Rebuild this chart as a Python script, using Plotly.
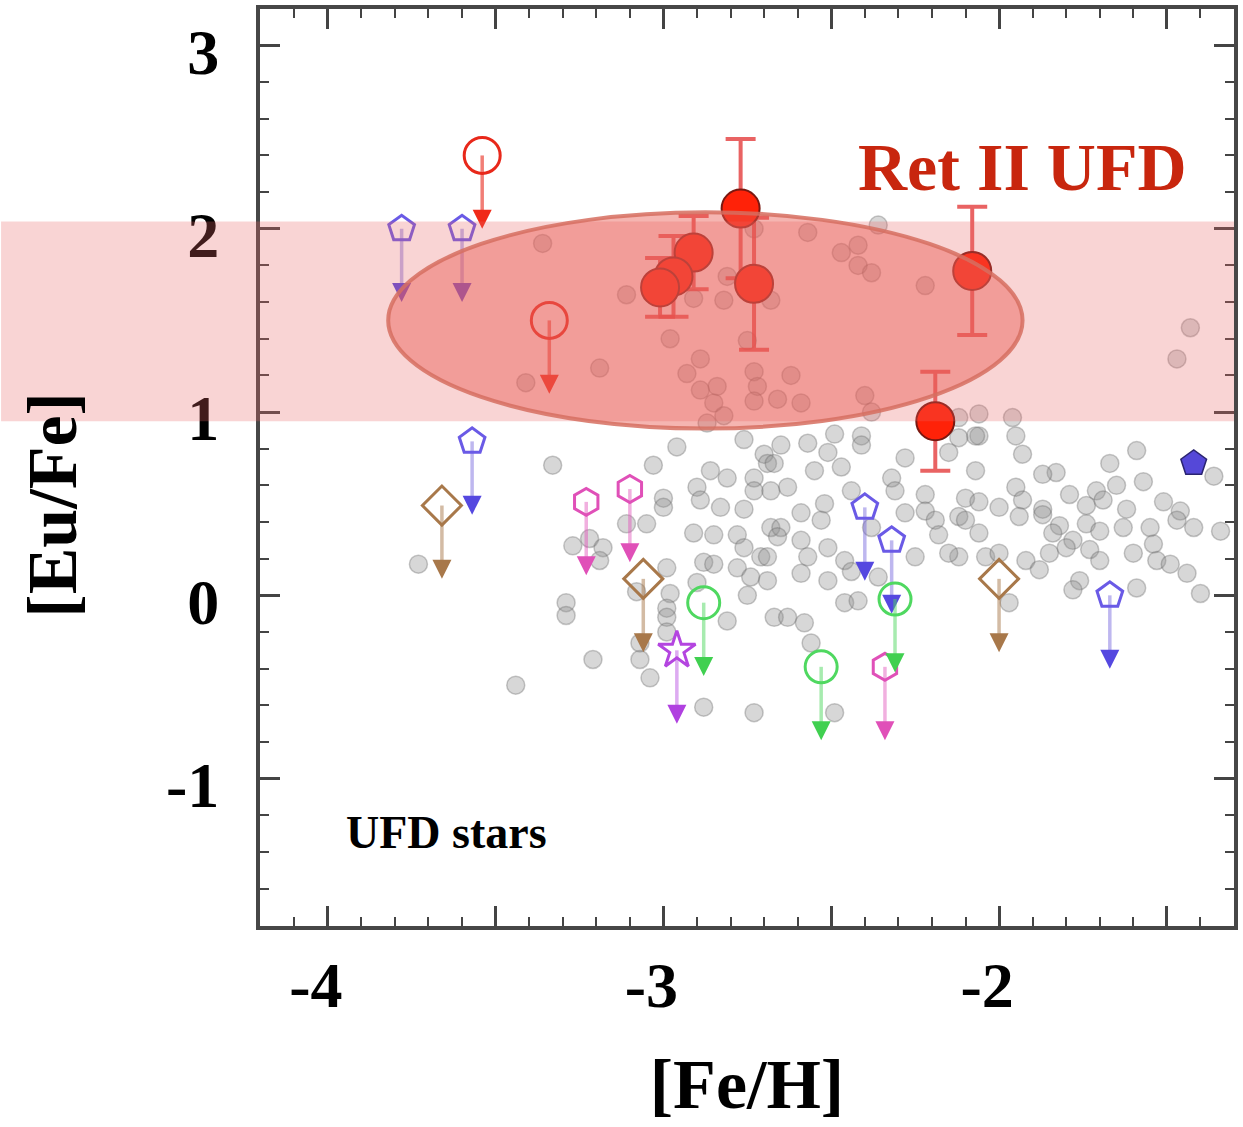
import plotly.graph_objects as go

# ---------------- data ----------------
# background comparison stars (grey)
grey_feh = [-3.33, -2.96, -3.03, -2.76, -2.86, -2.81, -2.90, -2.73, -2.70, -2.69,
            -3.00, -3.00, -2.89, -2.83, -2.76, -2.73, -3.11, -3.05, -2.91, -2.85,
            -2.78, -2.68, -2.76, -2.71, -3.27, -3.22, -3.18, -3.19, -3.73, -2.99,
            -2.88, -2.85, -2.78, -2.74, -2.69, -2.90, -3.08, -2.98, -3.29, -3.29,
            -2.99, -2.99, -2.81, -2.75, -2.99, -3.07, -3.21, -3.07, -3.04, -3.44,
            -2.88, -2.73, -2.67, -2.49, -2.41, -2.57, -2.65, -2.51, -2.41, -2.28,
            -2.15, -2.06, -1.95, -1.93, -2.07, -1.59, -1.67, -1.83, -1.87, -1.57,
            -1.65, -1.71, -1.95, -1.36, -2.67, -2.55, -2.47, -2.32, -2.31, -2.44,
            -2.63, -2.68, -2.22, -2.10, -2.06, -2.00, -1.93, -1.87, -1.79, -1.74,
            -1.69, -1.62, -1.51, -1.46, -2.59, -2.52, -2.65, -2.53, -2.38, -2.28,
            -2.22, -2.19, -2.12, -2.10, -1.94, -1.87, -1.82, -1.74, -1.63, -1.55,
            -1.47, -1.42, -1.34, -2.18, -2.06, -1.84, -1.78, -1.70, -2.66, -2.59,
            -2.51, -2.57, -2.69, -2.46, -2.25, -2.44, -2.36, -2.51, -2.59, -2.12,
            -2.04, -2.00, -1.92, -1.88, -1.85, -1.80, -1.73, -1.70, -1.76, -1.78,
            -1.60, -1.54, -1.53, -1.49, -1.59, -1.44, -1.40, -2.46, -2.42, -2.63,
            -2.58, -2.56, -1.97, -2.49, -2.15, -3.36, -3.11, -2.91, -2.82, -2.68,
            -2.81, -2.57, -2.47, -2.42, -2.42, -2.38, -2.22, -2.98, -2.75, -3.19,
            -3.41, -2.89, -2.93, -2.84, -2.89, -2.73, -2.72, -2.62, -2.85, -2.73,
            -2.66, -2.59, -2.82, -2.87, -2.40, -2.38, -1.43, -1.47, -2.06, -2.12,
            -1.96, -2.07, -2.12, -2.73, -2.36]
grey_eu = [0.71, 0.81, 0.71, 0.85, 0.68, 0.64, 0.59, 0.64, 0.77, 0.72,
           0.53, 0.48, 0.52, 0.48, 0.47, 0.57, 0.39, 0.39, 0.34, 0.33,
           0.33, 0.37, 0.26, 0.21, 0.27, 0.31, 0.26, 0.19, 0.17, 0.15,
           0.18, 0.17, 0.15, 0.10, 0.08, 0.07, 0.02, 0.01, -0.04, -0.11,
           -0.07, -0.12, -0.14, 0.00, -0.20, -0.26, -0.35, -0.35, -0.45, -0.49,
           -0.61, -0.64, -0.12, 0.88, 0.87, 0.83, 0.82, 0.78, 0.82, 0.75,
           0.78, 0.87, 0.87, 0.77, 0.68, 0.79, 0.72, 0.67, 0.66, 0.62,
           0.60, 0.57, 0.59, 0.65, 0.72, 0.68, 0.70, 0.64, 0.57, 0.57,
           0.59, 0.57, 0.55, 0.53, 0.51, 0.48, 0.52, 0.47, 0.55, 0.49,
           0.52, 0.47, 0.51, 0.46, 0.45, 0.50, 0.37, 0.41, 0.37, 0.45,
           0.46, 0.41, 0.43, 0.41, 0.43, 0.44, 0.38, 0.39, 0.37, 0.37,
           0.41, 0.37, 0.35, 0.33, 0.34, 0.34, 0.30, 0.35, 0.32, 0.30,
           0.26, 0.21, 0.21, 0.19, 0.21, 0.13, 0.10, 0.08, 0.12, 0.21,
           0.21, 0.23, 0.19, 0.14, 0.23, 0.26, 0.25, 0.19, 0.08, 0.03,
           0.23, 0.28, 0.19, 0.17, 0.04, 0.12, 0.01, -0.04, -0.03, -0.12,
           -0.15, -0.26, -0.04, -0.64, 0.23, 1.92, 1.64, 1.62, 1.61, 1.61,
           1.74, 1.98, 1.87, 1.91, 1.80, 1.76, 1.69, 1.40, 1.39, 1.24,
           1.16, 1.29, 1.21, 1.14, 1.12, 1.22, 1.14, 1.20, 1.05, 1.06,
           1.07, 1.05, 0.98, 0.94, 1.09, 1.00, 1.46, 1.29, 0.99, 0.97,
           0.97, 0.87, 0.86, 2.00, 2.02]

# Ret II detections with errors
ret_feh = [-2.77, -2.91, -2.97, -3.01, -2.73, -2.08, -2.19]
ret_eu = [2.11, 1.87, 1.74, 1.68, 1.70, 1.77, 0.95]
ret_err = [0.38, 0.20, 0.22, 0.16, 0.36, 0.35, 0.27]

# upper limits
ret_lim_feh = [-3.54, -3.34]
ret_lim_eu = [2.40, 1.50]
pent_lim_feh = [-3.78, -3.60, -3.57, -2.40, -2.32, -1.67]
pent_lim_eu = [2.00, 2.00, 0.84, 0.48, 0.30, 0.00]
pent_det_feh = [-1.42]
pent_det_eu = [0.72]
diam_lim_feh = [-3.66, -3.06, -2.00]
diam_lim_eu = [0.49, 0.09, 0.09]
hex_lim_feh = [-3.23, -3.10, -2.34]
hex_lim_eu = [0.51, 0.58, -0.39]
green_lim_feh = [-2.88, -2.53, -2.31]
green_lim_eu = [-0.04, -0.39, -0.02]
star_lim_feh = [-2.96]
star_lim_eu = [-0.30]

# Ret II band and ellipse (in [Eu/Fe] / [Fe/H])
band_eu = [0.95, 2.04]
ellipse_feh = [-3.82, -1.93]
ellipse_eu = [0.91, 2.09]

x_range = [-4.202, -1.300]
y_range = [-1.804, 3.199]
x_tickvals = [-4.0, -3.5, -3.0, -2.5, -2.0, -1.5]
x_ticktext = ['-4', '', '-3', '', '-2', '']
y_tickvals = [-1, 0, 1, 2, 3]
y_ticktext = ['-1', '0', '1', '2', '3']

ARROW = 0.40
SERIF = 'Liberation Serif, Times New Roman, serif'

fig = go.Figure()

fig.add_trace(go.Scatter(
    x=grey_feh, y=grey_eu, mode='markers',
    marker=dict(symbol='circle', size=18, color='rgba(145,145,145,0.36)',
                line=dict(color='rgba(100,100,100,0.35)', width=1.5)),
    hoverinfo='skip', showlegend=False))


def add_limits(xs, ys, symbol, color, shaft, head, size, lw=3):
    lx, ly = [], []
    for x, y in zip(xs, ys):
        lx += [x, x, None]
        ly += [y, y - ARROW + 0.06, None]
    fig.add_trace(go.Scatter(x=lx, y=ly, mode='lines',
                             line=dict(color=shaft, width=3.5),
                             hoverinfo='skip', showlegend=False))
    fig.add_trace(go.Scatter(x=list(xs), y=[y - ARROW for y in ys], mode='markers',
                             marker=dict(symbol='arrow-down', size=19, color=head,
                                         line=dict(width=0)),
                             hoverinfo='skip', showlegend=False))
    fig.add_trace(go.Scatter(x=list(xs), y=list(ys), mode='markers',
                             marker=dict(symbol=symbol, size=size, color='rgba(0,0,0,0)',
                                         line=dict(color=color, width=lw)),
                             showlegend=False))


add_limits(pent_lim_feh, pent_lim_eu, 'pentagon', '#6a5ae6', 'rgba(110,95,220,0.45)', '#5548e0', 27)
add_limits(diam_lim_feh, diam_lim_eu, 'diamond', '#a8784a', 'rgba(168,120,74,0.5)', '#a8784a', 30)
add_limits(hex_lim_feh, hex_lim_eu, 'hexagon', '#e050b8', 'rgba(224,80,184,0.45)', '#e050b8', 27)
add_limits(green_lim_feh, green_lim_eu, 'circle', '#4fd860', 'rgba(79,216,96,0.5)', '#40d050', 32)
add_limits(star_lim_feh, star_lim_eu, 'star', '#b445e0', 'rgba(180,69,224,0.45)', '#b040e0', 28)
add_limits(ret_lim_feh, ret_lim_eu, 'circle', '#e8281a', 'rgba(232,40,26,0.6)', '#f02a18', 36)

fig.add_trace(go.Scatter(
    x=pent_det_feh, y=pent_det_eu, mode='markers',
    marker=dict(symbol='pentagon', size=27, color='#5548d8',
                line=dict(color='#2a2470', width=1.5)),
    showlegend=False))

fig.add_trace(go.Scatter(
    x=ret_feh, y=ret_eu, mode='markers',
    error_y=dict(type='data', array=ret_err, color='rgba(228,60,60,0.8)',
                 thickness=4, width=15),
    marker=dict(symbol='circle', size=38, color='#ff2208',
                line=dict(color='#7a1810', width=2)),
    showlegend=False))

yspan = y_range[1] - y_range[0]
band_p = [(v - y_range[0]) / yspan for v in band_eu]

fig.add_shape(type='rect', xref='paper', yref='paper',
              x0=-260 / 978, x1=1.0, y0=band_p[0], y1=band_p[1],
              fillcolor='rgba(232,100,100,0.28)', line=dict(width=0), layer='above')
fig.add_shape(type='circle', xref='x', yref='y',
              x0=ellipse_feh[0], x1=ellipse_feh[1], y0=ellipse_eu[0], y1=ellipse_eu[1],
              fillcolor='rgba(232,92,82,0.45)', line=dict(color='rgba(214,110,96,0.85)', width=4),
              layer='above')

fig.add_annotation(text='Ret II UFD', xref='paper', yref='paper', x=0.783, y=0.828,
                   xanchor='center', yanchor='middle', showarrow=False,
                   font=dict(family=SERIF, size=68, color='#c8260e', weight='bold'))
fig.add_annotation(text='UFD stars', xref='paper', yref='paper', x=0.191, y=0.102,
                   xanchor='center', yanchor='middle', showarrow=False,
                   font=dict(family=SERIF, size=46, color='black', weight='bold'))
fig.add_annotation(text='[Eu/Fe]', xref='paper', yref='paper', x=-0.213, y=0.459,
                   xanchor='center', yanchor='middle', textangle=-90, showarrow=False,
                   font=dict(family=SERIF, size=70, color='black', weight='bold'))

axis_common = dict(showline=True, linewidth=4, linecolor='#474747', mirror='ticks',
                   showgrid=False, zeroline=False, ticks='inside', ticklen=20,
                   tickwidth=3, tickcolor='#444')

fig.update_layout(
    width=1243, height=1127,
    margin=dict(l=260, r=5, t=8, b=201),
    paper_bgcolor='white', plot_bgcolor='white', showlegend=False,
    xaxis=dict(range=x_range, tickmode='array', tickvals=x_tickvals, ticktext=x_ticktext,
               minor=dict(dtick=0.1, tick0=-4, ticks='inside', ticklen=9, tickwidth=2,
                          tickcolor='#444'),
               tickfont=dict(family=SERIF, size=64, color='black', weight='bold'),
               ticklabelstandoff=0, ticklabelshift=-12,
               title=dict(text='[Fe/H]', standoff=40,
                          font=dict(family=SERIF, size=70, color='black', weight='bold')),
               **axis_common),
    yaxis=dict(range=y_range, tickmode='array', tickvals=y_tickvals, ticktext=y_ticktext,
               minor=dict(dtick=0.2, tick0=0, ticks='inside', ticklen=9, tickwidth=2,
                          tickcolor='#444'),
               tickfont=dict(family=SERIF, size=64, color='black', weight='bold'),
               ticklabelstandoff=24, ticklabelshift=6,
               **axis_common),
)

fig.write_html('out.html')
